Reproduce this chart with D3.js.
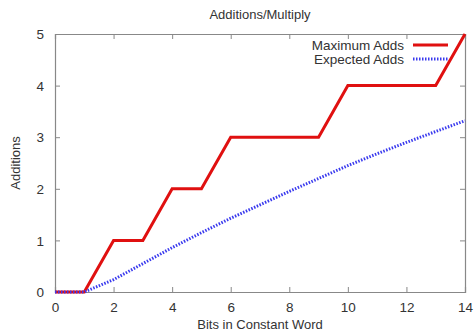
<!DOCTYPE html>
<html>
<head>
<meta charset="utf-8">
<script src="https://cdn.jsdelivr.net/npm/d3@7"></script>
<style>
  body { margin: 0; background: #fff; }
  text { font-family: "Liberation Sans", Arial, sans-serif; fill: #333; }
</style>
</head>
<body>
<div id="chart"></div>
<script>
const width = 474;
const height = 335;

// data
const bits = [0, 1, 2, 3, 4, 5, 6, 7, 8, 9, 10, 11, 12, 13, 14];
const maxAdds = [0, 0, 1, 1, 2, 2, 3, 3, 3, 3, 4, 4, 4, 4, 5];
const expectedAdds = [0, 0, 0.24, 0.55, 0.86, 1.15, 1.43, 1.69, 1.95, 2.2, 2.45, 2.68, 2.9, 3.11, 3.32];
const xTicks = [0, 2, 4, 6, 8, 10, 12, 14];
const yTicks = [0, 1, 2, 3, 4, 5];
const seriesNames = ["Maximum Adds", "Expected Adds"];

const margin = { top: 34, right: 9, bottom: 43, left: 55 };
const innerW = width - margin.left - margin.right;
const innerH = height - margin.top - margin.bottom;

const svg = d3.select("#chart")
    .append("svg")
    .attr("width", width)
    .attr("height", height);

const g = svg.append("g")
    .attr("transform", `translate(${margin.left},${margin.top})`);

const x = d3.scaleLinear().domain([0, 14]).range([0, innerW]);
const y = d3.scaleLinear().domain([0, 5]).range([innerH, 0]);

// axes with inward ticks, mirrored on top and right
const axisColor = "#888";
const tickLen = 5;

const xAxis = g.append("g")
    .attr("transform", `translate(0,${innerH})`)
    .call(d3.axisBottom(x).tickValues(xTicks).tickSize(-tickLen).tickPadding(10).tickFormat(d3.format("d")));
const yAxis = g.append("g")
    .call(d3.axisLeft(y).tickValues(yTicks).tickSize(-tickLen).tickPadding(11).tickFormat(d3.format("d")));
const xTop = g.append("g")
    .call(d3.axisTop(x).tickValues(xTicks).tickSize(-tickLen).tickFormat(""));
const yRight = g.append("g")
    .attr("transform", `translate(${innerW},0)`)
    .call(d3.axisRight(y).tickValues(yTicks).tickSize(-tickLen).tickFormat(""));

[xAxis, yAxis, xTop, yRight].forEach(a => {
    a.select(".domain").attr("stroke", axisColor).attr("stroke-width", 1.2);
    a.selectAll(".tick line").attr("stroke", axisColor);
    a.selectAll(".tick text")
        .style("font-family", "'Liberation Sans', Arial, sans-serif")
        .style("font-size", "13.5px")
        .attr("fill", "#333");
});
yAxis.selectAll(".tick text").attr("dy", "0.35em");

// lines
const line = d3.line()
    .x((d, i) => x(bits[i]))
    .y(d => y(d));

g.append("path")
    .datum(maxAdds)
    .attr("fill", "none")
    .attr("stroke", "#e01010")
    .attr("stroke-width", 3)
    .attr("stroke-linejoin", "miter")
    .attr("d", line);

g.append("path")
    .datum(expectedAdds)
    .attr("fill", "none")
    .attr("stroke", "#3a3aee")
    .attr("stroke-width", 3)
    .attr("stroke-dasharray", "1.5,1.5")
    .attr("d", line);

// legend
const legend = svg.append("g").attr("transform", "translate(404,45)");
legend.append("text")
    .attr("x", 0).attr("y", 0).attr("dy", "0.35em")
    .attr("text-anchor", "end")
    .style("font-size", "13.5px")
    .text(seriesNames[0]);
legend.append("line")
    .attr("x1", 9).attr("x2", 44).attr("y1", 0).attr("y2", 0)
    .attr("stroke", "#e01010").attr("stroke-width", 3);
legend.append("text")
    .attr("x", 0).attr("y", 14).attr("dy", "0.35em")
    .attr("text-anchor", "end")
    .style("font-size", "13.5px")
    .text(seriesNames[1]);
legend.append("line")
    .attr("x1", 9).attr("x2", 44).attr("y1", 14).attr("y2", 14)
    .attr("stroke", "#3a3aee").attr("stroke-width", 3)
    .attr("stroke-dasharray", "1.5,1.5");

// titles
svg.append("text")
    .attr("x", margin.left + innerW / 2).attr("y", 19)
    .attr("text-anchor", "middle")
    .style("font-size", "13px")
    .text("Additions/Multiply");

svg.append("text")
    .attr("x", margin.left + innerW / 2).attr("y", 329)
    .attr("text-anchor", "middle")
    .style("font-size", "13px")
    .text("Bits in Constant Word");

svg.append("text")
    .attr("transform", `translate(20,${margin.top + innerH / 2}) rotate(-90)`)
    .attr("text-anchor", "middle")
    .style("font-size", "13px")
    .text("Additions");
</script>
</body>
</html>
